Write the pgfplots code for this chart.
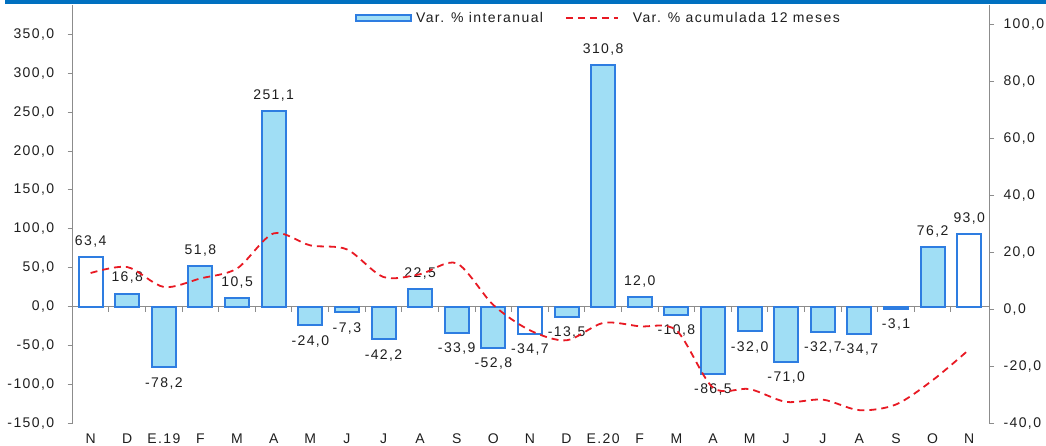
\documentclass[border=0pt]{standalone}
\usepackage{fontspec}
\setmainfont[LetterSpace=10]{Liberation Sans}
\usepackage{pgfplots}
\usepackage{pgfplotstable}
\pgfplotsset{compat=1.18}
\definecolor{barfill}{RGB}{160,222,245}
\definecolor{barline}{RGB}{46,125,225}
\definecolor{axgray}{RGB}{140,140,140}
\definecolor{linered}{RGB}{232,25,35}
\definecolor{topblue}{RGB}{0,112,192}
\definecolor{txt}{RGB}{30,30,30}
\newcommand{\chfont}{\fontsize{14}{16}\selectfont}

\pgfplotstableread{
x y
1 16.8
2 -78.2
3 51.8
4 10.5
5 251.1
6 -24.0
7 -7.3
8 -42.2
9 22.5
10 -33.9
11 -52.8
13 -13.5
14 310.8
15 12.0
16 -10.8
17 -86.5
18 -32.0
19 -71.0
20 -32.7
21 -34.7
22 -3.1
23 76.2
}\bluebars

\pgfplotstableread{
x y
0 63.4
12 -34.7
24 93.0
}\whitebars

\pgfplotstableread{
x y
0 12.7
1 14.8
2 7.8
3 10.8
4 14.3
5 26.6
6 22.4
7 21.0
8 11.3
9 12.3
10 16.1
11 1.5
12 -7.4
13 -10.9
14 -4.8
15 -6.0
16 -7.4
17 -27.5
18 -28.0
19 -32.5
20 -31.7
21 -35.4
22 -33.4
23 -24.9
24 -14.1
}\accum

\pgfplotsset{
  numfmt/.style={
    /pgf/number format/fixed,
    /pgf/number format/fixed zerofill,
    /pgf/number format/precision=1,
    /pgf/number format/use comma,
    /pgf/number format/assume math mode=true,
  },
  base/.style={
    at={(72.7pt,22.7pt)}, anchor=south west,
    scale only axis, width=916.3pt, height=418.3pt,
    xmin=-0.49, xmax=24.54,
    tick label style={font=\chfont, text=txt},
    numfmt,
    axis line style={-},
  },
}

\begin{document}
\begin{tikzpicture}
\begin{axis}[base,
  ymin=-150, ymax=387.7,
  axis y line*=left, axis x line*=middle,
  y axis line style={axgray, line width=1pt},
  x axis line style={axgray, line width=1pt},
  ytick={-150,-100,...,350},
  yticklabel style={xshift=-10pt},
  xtick={0.5,1.5,...,23.5},
  xticklabels={},
  tick align=outside,
  major tick length=5pt,
  tick style={axgray, line width=1pt},
  ybar, bar width=24pt,
  nodes near coords,
  nodes near coords align={vertical},
  every node near coord/.append style={font=\chfont, text=txt, inner ysep=9pt},
]
\addplot[ybar, bar shift=0pt, draw=barline, line width=2pt, fill=barfill] table[x=x,y=y] {\bluebars};
\addplot[ybar, bar shift=0pt, draw=barline, line width=2pt, fill=white] table[x=x,y=y] {\whitebars};
\end{axis}
\begin{axis}[base,
  ymin=-40, ymax=106.7,
  axis y line*=right, axis x line*=bottom,
  x axis line style={draw=none},
  y axis line style={axgray, line width=1pt},
  ytick={-40,-20,...,100},
  yticklabel style={xshift=6pt},
  xtick={0,...,24},
  xticklabels={N,D,E.19,F,M,A,M,J,J,A,S,O,N,D,E.20,F,M,A,M,J,J,A,S,O,N},
  xticklabel style={yshift=-2pt},
  major x tick style={draw=none},
  ytick style={axgray, line width=1pt},
  tick align=outside,
  major tick length=5pt,
  legend columns=2,
  legend style={at={(0.308,0.969)}, anchor=west, draw=none, fill=none,
    font=\chfont, text=txt, inner sep=0pt,
    /tikz/every odd column/.append style={column sep=2pt},
    /tikz/every even column/.append style={column sep=20pt}},
]
\addlegendimage{legend image code/.code={\draw[draw=barline, line width=2pt, fill=barfill] (0pt,-3pt) rectangle (55pt,3pt);}}
\addlegendentry{Var. \% interanual}
\addplot[linered, line width=1.8pt, dash pattern=on 7pt off 5pt, smooth, tension=0.5,
  legend image code/.code={\draw[linered, line width=1.8pt, dash pattern=on 7pt off 5pt] (0pt,0pt) -- (52pt,0pt); \path (62pt,0pt);}]
  table[x=x,y=y] {\accum};
\addlegendentry{Var. \% acumulada 12 meses}
\end{axis}
\fill[topblue] (5pt,442pt) rectangle (1046pt,446pt);
\pgfresetboundingbox
\useasboundingbox (0pt,0pt) rectangle (1046pt,446pt);
\end{tikzpicture}
\end{document}
